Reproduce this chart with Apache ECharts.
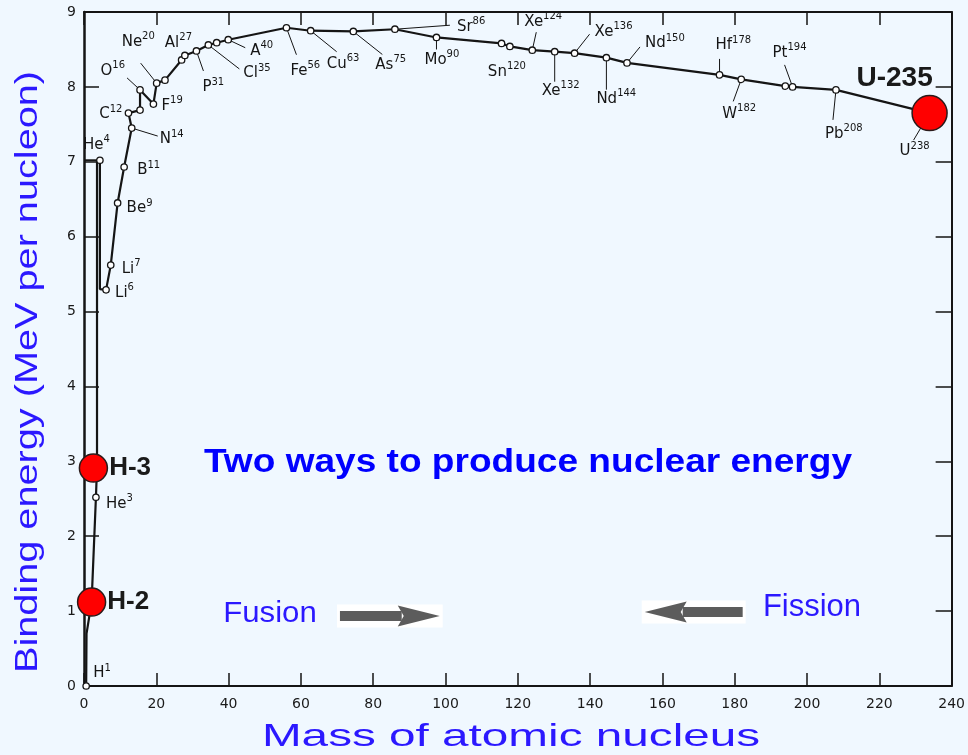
<!DOCTYPE html>
<html>
<head>
<meta charset="utf-8">
<script src="https://cdn.jsdelivr.net/npm/echarts@6/dist/echarts.min.js"></script>
<style>
  html, body { margin: 0; padding: 0; background: #f0f8ff; }
  #chart { width: 968px; height: 755px; }
</style>
</head>
<body>
<div id="chart"></div>
<script>
// traced binding-energy curve (mass number, MeV per nucleon)
const curveA = [0.6, 0.7, 2.1, 3.3, 3.6, 3.6, 4.4, 4.4, 6.1, 7.4, 9.3, 11.1, 13.2, 12.3, 15.5, 15.5, 19.2, 20.1, 22.4,
  27.0, 27.9, 31.1, 34.4, 36.7, 39.9, 56, 62.7, 74.5, 86, 97.5, 115.5, 117.8, 124, 130.2, 135.7, 144.5, 150.2,
  175.8, 181.8, 194, 196, 208, 233.9];
const curveBE = [0.0, 0.7, 1.12, 2.52, 2.92, 7.02, 7.02, 5.3, 5.29, 5.62, 6.45, 6.93, 7.45, 7.65, 7.69, 7.96, 7.77, 8.05, 8.09,
  8.36, 8.42, 8.48, 8.56, 8.59, 8.63, 8.79, 8.75, 8.74, 8.77, 8.66, 8.58, 8.54, 8.49, 8.47, 8.45, 8.39, 8.32,
  8.16, 8.10, 8.01, 8.00, 7.96, 7.65];

// the little bracket at the top of the He-4 spike
const bracketA = [0, 3.6];
const bracketBE = [7.02, 7.02];

// plotted isotopes
const isoSym = ['H', 'He', 'He', 'Li', 'Li', 'Be', 'B', 'C', 'N', '', 'O', 'F', 'Ne', '', '', 'Al', 'P', 'Cl', '', 'A',
  'Fe', 'Cu', 'As', 'Sr', 'Mo', '', 'Sn', 'Xe', 'Xe', 'Xe', 'Nd', 'Nd', 'Hf', 'W', '', 'Pt', 'Pb', 'U'];
const isoMass = ['1', '3', '4', '6', '7', '9', '11', '12', '14', '', '16', '19', '20', '', '', '27', '31', '35', '', '40',
  '56', '63', '75', '86', '90', '', '120', '124', '132', '136', '144', '150', '178', '182', '', '194', '208', '238'];
const isoA = [0.6, 3.3, 4.4, 6.1, 7.4, 9.3, 11.1, 12.3, 13.2, 15.5, 15.5, 19.2, 20.1, 22.4, 27.0, 27.9, 31.1, 34.4, 36.7, 39.9,
  56, 62.7, 74.5, 86, 97.5, 115.5, 117.8, 124, 130.2, 135.7, 144.5, 150.2, 175.8, 181.8, 194, 196, 208, 233.9];
const isoBE = [0.0, 2.52, 7.02, 5.29, 5.62, 6.45, 6.93, 7.65, 7.45, 7.69, 7.96, 7.77, 8.05, 8.09, 8.36, 8.42, 8.48, 8.56, 8.59, 8.63,
  8.79, 8.75, 8.74, 8.77, 8.66, 8.58, 8.54, 8.49, 8.47, 8.45, 8.39, 8.32, 8.16, 8.10, 8.01, 8.00, 7.96, 7.65];

// highlighted nuclei
const markerNames = ['H-2', 'H-3', 'U-235'];
const markerA = [2.1, 2.6, 233.9];
const markerBE = [1.12, 2.91, 7.65];

// fusion / fission arrows: tail, tip, level
const arrowTail = [70.8, 182.2];
const arrowTip = [98.4, 155.1];
const arrowBE = [0.935, 0.988];

const xTicks = [0, 20, 40, 60, 80, 100, 120, 140, 160, 180, 200, 220, 240];
const yTicks = [0, 1, 2, 3, 4, 5, 6, 7, 8, 9];

// where each isotope label sits relative to its point (px), plus an optional leader line end
const labelPlace = {
  H1: { dx: 7, dy: -14 },
  He3: { dx: 10, dy: 5 },
  He4: { dx: -17, dy: -17 },
  Li6: { dx: 9, dy: 2 },
  Li7: { dx: 11, dy: 2 },
  Be9: { dx: 9, dy: 4 },
  B11: { dx: 13, dy: 2 },
  C12: { dx: -6, dy: 0, align: 'right' },
  N14: { dx: 28, dy: 10, leader: [26, 8] },
  O16: { dx: -15, dy: -20, align: 'right', leader: [-13, -12] },
  F19: { dx: 8, dy: 0 },
  Ne20: { dx: -35, dy: -43, leader: [-16, -20] },
  Al27: { dx: -20, dy: -14 },
  P31: { dx: 6, dy: 35, leader: [7, 20] },
  Cl35: { dx: 35, dy: 27, leader: [31, 24] },
  A40: { dx: 22, dy: 10, leader: [17, 8] },
  Fe56: { dx: 4, dy: 42, leader: [10, 27] },
  Cu63: { dx: 16, dy: 32, leader: [26, 21] },
  As75: { dx: 22, dy: 32, leader: [29, 23] },
  Sr86: { dx: 62, dy: -4, leader: [55, -4] },
  Mo90: { dx: -12, dy: 21, leader: [0, 12] },
  Sn120: { dx: -22, dy: 24 },
  Xe124: { dx: -8, dy: -30, leader: [4, -18] },
  Xe132: { dx: -13, dy: 38, leader: [0, 30] },
  Xe136: { dx: 20, dy: -23, leader: [15, -19] },
  Nd144: { dx: -10, dy: 40, leader: [0, 32] },
  Nd150: { dx: 18, dy: -21, leader: [13, -16] },
  Hf178: { dx: -4, dy: -31, leader: [0, -16] },
  W182: { dx: -19, dy: 33, leader: [-8, 22] },
  Pt194: { dx: -20, dy: -35, leader: [-8, -22] },
  Pb208: { dx: -11, dy: 43, leader: [-3, 30] },
  U238: { dx: -30, dy: 37, leader: [-16, 27] },
};

const ink = '#151515';
const blue = '#2b18ff';

const chart = echarts.init(document.getElementById('chart'));

const axisCommon = {
  type: 'value',
  axisLine: { onZero: false, lineStyle: { color: ink, width: 2 } },
  splitLine: { show: false },
};

const option = {
  backgroundColor: '#f0f8ff',
  animation: false,
  grid: { left: 84, right: 16, top: 12, bottom: 69 },
  xAxis: [
    Object.assign({}, axisCommon, {
      min: xTicks[0], max: xTicks[xTicks.length - 1], interval: 20, position: 'bottom',
      axisTick: { inside: true, length: 13, lineStyle: { color: ink, width: 1.5 } },
      axisLabel: { color: '#1a1a1a', fontSize: 14, margin: 11, fontFamily: 'DejaVu Sans' },
    }),
    Object.assign({}, axisCommon, {
      min: xTicks[0], max: xTicks[xTicks.length - 1], interval: 20, position: 'top',
      axisTick: { inside: true, length: 13, lineStyle: { color: ink, width: 1.5 } },
      axisLabel: { show: false },
    }),
  ],
  yAxis: [
    Object.assign({}, axisCommon, {
      min: yTicks[0], max: yTicks[yTicks.length - 1], interval: 1, position: 'left',
      axisLine: { onZero: false, lineStyle: { color: ink, width: 2.5 } },
      axisTick: { inside: true, length: 15, lineStyle: { color: ink, width: 1.5 } },
      axisLabel: { color: '#1a1a1a', fontSize: 14, margin: 8, fontFamily: 'DejaVu Sans' },
    }),
    Object.assign({}, axisCommon, {
      min: yTicks[0], max: yTicks[yTicks.length - 1], interval: 1, position: 'right',
      axisTick: { inside: true, length: 16, lineStyle: { color: ink, width: 1.5 } },
      axisLabel: { show: false },
    }),
  ],
  graphic: [
    {
      type: 'text', x: 28, y: 372, rotation: Math.PI / 2, scaleX: 1.24,
      style: { text: 'Binding energy (MeV per nucleon)', font: '32px "Liberation Sans"', fill: blue, align: 'center', verticalAlign: 'middle' },
    },
    {
      type: 'text', x: 511, y: 737, scaleX: 1.49,
      style: { text: 'Mass of atomic nucleus', font: '32px "Liberation Sans"', fill: blue, align: 'center', verticalAlign: 'middle' },
    },
    {
      type: 'text', x: 528, y: 463, scaleX: 1.09, z: 10,
      style: { text: 'Two ways to produce nuclear energy', font: 'bold 34px "Liberation Sans"', fill: '#0000ff', align: 'center', verticalAlign: 'middle' },
    },
    {
      type: 'text', x: 270, y: 614, scaleX: 1.04, z: 10,
      style: { text: 'Fusion', font: '30px "Liberation Sans"', fill: blue, align: 'center', verticalAlign: 'middle' },
    },
    {
      type: 'text', x: 812, y: 607, z: 10,
      style: { text: 'Fission', font: '31px "Liberation Sans"', fill: blue, align: 'center', verticalAlign: 'middle' },
    },
  ],
  series: [
    {
      type: 'line',
      data: curveA.map((a, i) => [a, curveBE[i]]),
      showSymbol: false,
      lineStyle: { color: ink, width: 2.2 },
      z: 3,
    },
    {
      type: 'line',
      data: bracketA.map((a, i) => [a, bracketBE[i]]),
      showSymbol: false,
      lineStyle: { color: ink, width: 2 },
      z: 3,
    },
    {
      type: 'custom',
      clip: false,
      z: 4,
      data: isoA.map((a, i) => [a, isoBE[i], i]),
      renderItem: (params, api) => {
        const i = api.value(2);
        const p = api.coord([api.value(0), api.value(1)]);
        const key = isoSym[i] + isoMass[i];
        const pl = labelPlace[key];
        const children = [];
        if (pl && pl.leader) {
          children.push({
            type: 'line',
            shape: { x1: p[0], y1: p[1], x2: p[0] + pl.leader[0], y2: p[1] + pl.leader[1] },
            style: { stroke: ink, lineWidth: 1 },
          });
        }
        children.push({
          type: 'circle',
          shape: { cx: p[0], cy: p[1], r: 3.2 },
          style: { fill: '#fff', stroke: ink, lineWidth: 1.3 },
        });
        if (isoSym[i] && pl) {
          children.push({
            type: 'text',
            x: p[0] + pl.dx,
            y: p[1] + pl.dy,
            style: {
              text: '{e|' + isoSym[i] + '}{s|' + isoMass[i] + '}',
              align: pl.align || 'left',
              verticalAlign: 'middle',
              fill: ink,
              rich: {
                e: { fontSize: 15, fontFamily: 'DejaVu Sans', fill: ink, lineHeight: 18, verticalAlign: 'bottom' },
                s: { fontSize: 10, fontFamily: 'DejaVu Sans', fill: ink, lineHeight: 18, verticalAlign: 'top' },
              },
            },
          });
        }
        return { type: 'group', children };
      },
    },
    {
      type: 'custom',
      clip: false,
      z: 5,
      data: arrowTail.map((a, i) => [a, arrowTip[i], arrowBE[i]]),
      renderItem: (params, api) => {
        const t = api.coord([api.value(0), api.value(2)]);
        const h = api.coord([api.value(1), api.value(2)]);
        const dir = Math.sign(h[0] - t[0]);
        const y = t[1];
        const shaftEnd = h[0] - dir * 38;
        return {
          type: 'group',
          children: [
            {
              type: 'rect',
              shape: { x: Math.min(t[0], h[0]) - 3, y: y - 11.5, width: Math.abs(h[0] - t[0]) + 6, height: 23 },
              style: { fill: '#ffffff' },
            },
            {
              type: 'rect',
              shape: { x: Math.min(t[0], shaftEnd), y: y - 5, width: Math.abs(shaftEnd - t[0]), height: 10 },
              style: { fill: '#5c5c5c' },
            },
            {
              type: 'polygon',
              shape: { points: [[h[0], y], [h[0] - dir * 42, y - 10.5], [h[0] - dir * 36, y], [h[0] - dir * 42, y + 10.5]] },
              style: { fill: '#5c5c5c' },
            },
          ],
        };
      },
    },
    {
      type: 'scatter',
      z: 8,
      data: markerNames.map((n, i) => ({
        name: n,
        value: [markerA[i], markerBE[i]],
        symbolSize: n === 'U-235' ? 35 : 28,
        label: n === 'U-235'
          ? { position: 'inside', offset: [-35, -35], fontSize: 28 }
          : { position: 'right', distance: 1 },
      })),
      itemStyle: { color: '#ff0000', borderColor: '#2a1a1a', borderWidth: 1.5, opacity: 1 },
      label: {
        show: true,
        formatter: '{b}',
        color: '#1a1a1a',
        fontWeight: 'bold',
        fontSize: 26,
        fontFamily: 'Liberation Sans',
      },
    },
  ],
};

chart.setOption(option);
</script>
</body>
</html>
